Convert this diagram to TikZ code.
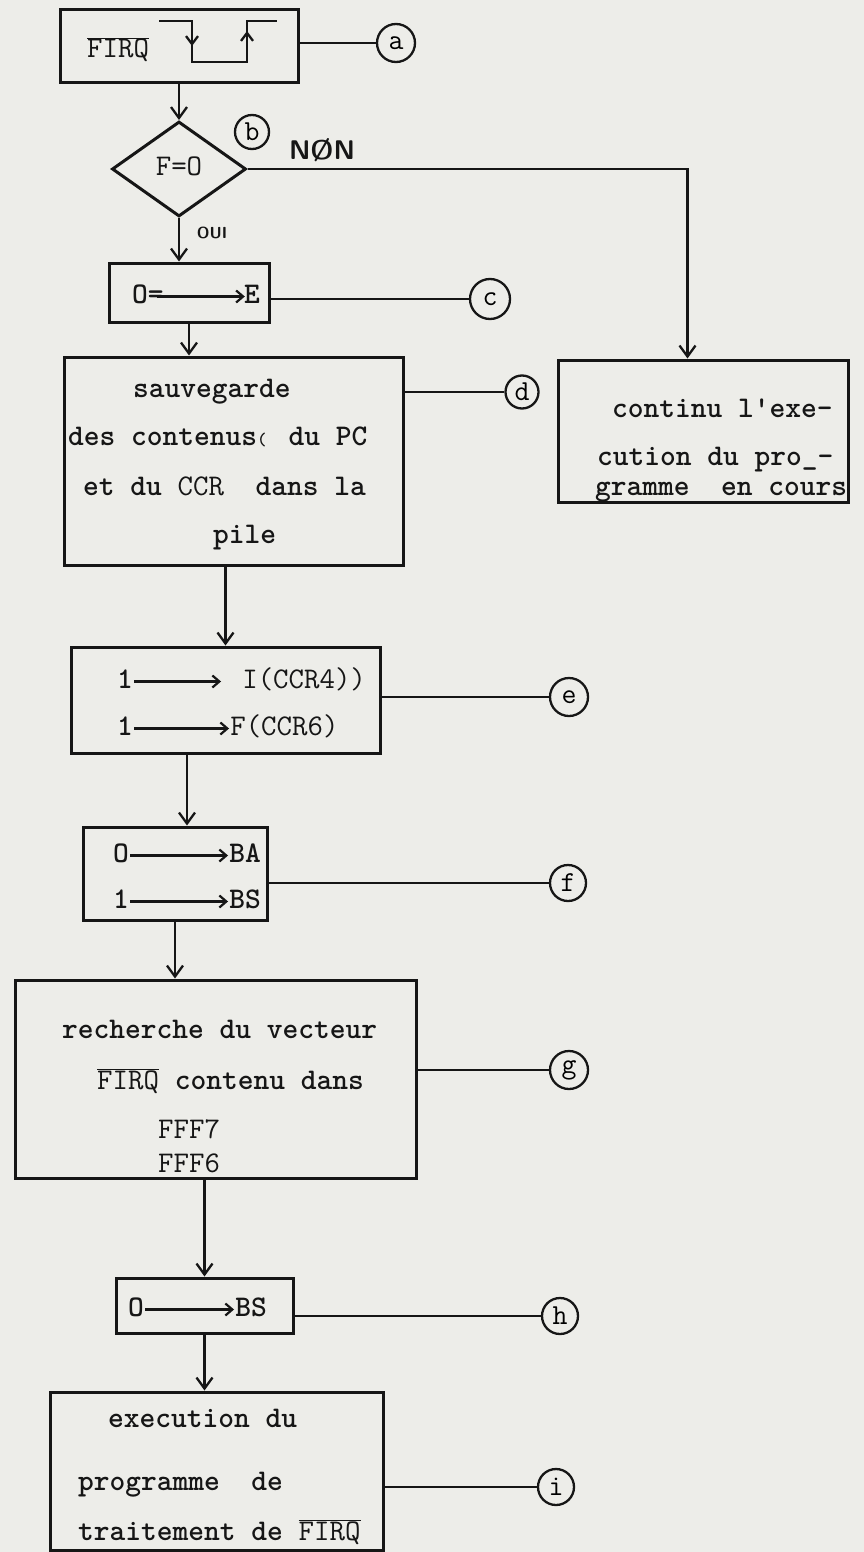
\documentclass[tikz,border=0pt]{standalone}
\usetikzlibrary{shapes.geometric,arrows.meta}
\definecolor{paper}{RGB}{237,237,233}
\definecolor{ink}{RGB}{22,22,22}
\newcommand{\tarr}[1]{\tikz[baseline=-6.5pt]\draw[ink,line width=2.2pt,-{Straight Barb[length=7pt,width=12pt]}] (0pt,0pt) -- (#1pt,0pt);}
\newcommand{\ovl}[1]{$\overline{\hbox{#1}}$}
\begin{document}
\begin{tikzpicture}[x=1pt,y=-1pt,
  font=\fontsize{30}{36}\selectfont\ttfamily,
  box/.style={draw=ink, line width=3pt, inner sep=0pt, rectangle},
  con/.style={draw=ink, line width=2.3pt},
  arr/.style={con, -{Straight Barb[length=11pt,width=16pt]}},
  smallarr/.style={con, -{Straight Barb[length=8pt,width=12pt]}},
  lab/.style={circle, draw=ink, line width=2.3pt, inner sep=0pt, font=\fontsize{29}{29}\selectfont\ttfamily},
  txt/.style={anchor=base west, inner sep=0pt, text=ink},
  btxt/.style={txt, font=\fontsize{30}{36}\selectfont\ttfamily\bfseries}]
\fill[paper] (0,0) rectangle (864,1552);
\useasboundingbox (0,0) rectangle (864,1552);

% boxes
\node[box, minimum width=238pt, minimum height=73pt] (A) at (179,46.5) {};
\node[draw=ink, line width=3pt, diamond, minimum width=134pt, minimum height=95pt, inner sep=0pt, text=ink] (B) at (179,169) {\raisebox{6pt}{F=O}};
\node[box, minimum width=160pt, minimum height=59pt] (C) at (189,292.5) {};
\node[box, minimum width=339pt, minimum height=208pt] (D) at (233.5,461) {};
\node[box, minimum width=290pt, minimum height=142pt] (R) at (703,431) {};
\node[box, minimum width=309pt, minimum height=106pt] (E) at (225.5,700) {};
\node[box, minimum width=184pt, minimum height=93pt] (F) at (175,873.5) {};
\node[box, minimum width=401pt, minimum height=198pt] (G) at (215.5,1079) {};
\node[box, minimum width=177pt, minimum height=55pt] (H) at (204.5,1305.5) {};
\node[box, minimum width=333pt, minimum height=158pt] (I) at (216.5,1471) {};

% reference circles
\node[lab, minimum size=38pt] (la) at (396,43) {a};
\node[lab, minimum size=34pt] (lb) at (252,132) {b};
\node[lab, minimum size=40pt] (lc) at (490,299) {c};
\node[lab, minimum size=33pt] (ld) at (522,392) {d};
\node[lab, minimum size=38pt] (le) at (569,697) {e};
\node[lab, minimum size=36pt] (lf) at (568,883) {f};
\node[lab, minimum size=38pt] (lg) at (569,1070) {g};
\node[lab, minimum size=36pt] (lh) at (560,1316) {h};
\node[lab, minimum size=36pt] (li) at (556,1487) {i};

% texts
\node[txt] (tA) at (87,58) {\ovl{FIRQ}};
\draw[con] (159,21) -- (192,21) -- (192,62) -- (247,62) -- (247,21) -- (277,21);
\draw[smallarr] (192,27) -- (192,46);
\draw[smallarr] (247,54) -- (247,31);

\node[anchor=base, inner sep=0pt, text=ink, font=\fontsize{27}{27}\selectfont\sffamily\bfseries] (non) at (322,159) {NØN};
\node[anchor=base, inner sep=0pt, text=ink, font=\fontsize{16}{16}\selectfont\sffamily\bfseries] (oui) at (212,238) {OUI};

\node[btxt] (tC) at (132,303) {O=\kern-8pt\tarr{88}\kern-2pt E};

\node[btxt] (tD1) at (133,397) {sauvegarde};
\node[btxt] (tD2) at (68,445) {des contenus\makebox[15.75pt][l]{\fontsize{18}{18}\selectfont(}~du PC};
\node[btxt] (tD3) at (83,495) {et du \textmd{CCR}~~dans la};
\node[btxt] (tD4) at (213,543) {pile};

\node[btxt] (tR1) at (612,417) {continu l\textquotesingle exe-};
\node[btxt] (tR2) at (597,465) {cution du pro\_-};
\node[btxt] (tR3) at (595,495) {gramme~~en cours};

\node[btxt] (tE1) at (117,688) {1\tarr{87}\hspace{20pt}\textmd{I(CCR4))}};
\node[btxt] (tE2) at (117,735) {1\tarr{95}\textmd{F(CCR6)}};

\node[btxt] (tF1) at (113,862) {O\tarr{98}BA};
\node[btxt] (tF2) at (113,908) {1\tarr{98}BS};

\node[btxt] (tG1) at (62,1038) {recherche du vecteur};
\node[btxt] (tG2) at (97,1089) {\textmd{\ovl{FIRQ}} contenu dans};
\node[txt] (tG3) at (158,1138) {FFF7};
\node[txt] (tG4) at (158,1172) {FFF6};

\node[btxt] (tH) at (128,1316) {O\tarr{89}BS};

\node[btxt] (tI1) at (108,1427) {execution du};
\node[btxt] (tI2) at (78,1490) {programme~~de};
\node[btxt] (tI3) at (78,1540) {traitement de \textmd{\ovl{FIRQ}}};

% connectors to circles
\draw[con] (A.east |- la) -- (la.west);
\draw[con] (C.east |- lc) -- (lc.west);
\draw[con] (D.east |- ld) -- (ld.west);
\draw[con] (E.east |- le) -- (le.west);
\draw[con] (F.east |- lf) -- (lf.west);
\draw[con] (G.east |- lg) -- (lg.west);
\draw[con] (H.east |- lh) -- (lh.west);
\draw[con] (I.east |- li) -- (li.west);

% flow arrows
\draw[arr] (A.south -| B.north) -- (B.north);
\draw[arr] (B.south) -- (B.south |- C.north);
\draw[arr] (B.east) -| ([xshift=131pt]R.north west);
\draw[arr] (C.south) -- (C.south |- D.north);
\draw[arr] (E.north |- D.south) -- (E.north);
\path (F.north) ++(12,0) coordinate (Fin);
\draw[arr] (Fin |- E.south) -- (Fin);
\draw[arr] (F.south) -- (F.south |- G.north);
\draw[arr] (H.north |- G.south) -- (H.north);
\draw[arr] (H.south) -- (H.south |- I.north);
\end{tikzpicture}
\end{document}
